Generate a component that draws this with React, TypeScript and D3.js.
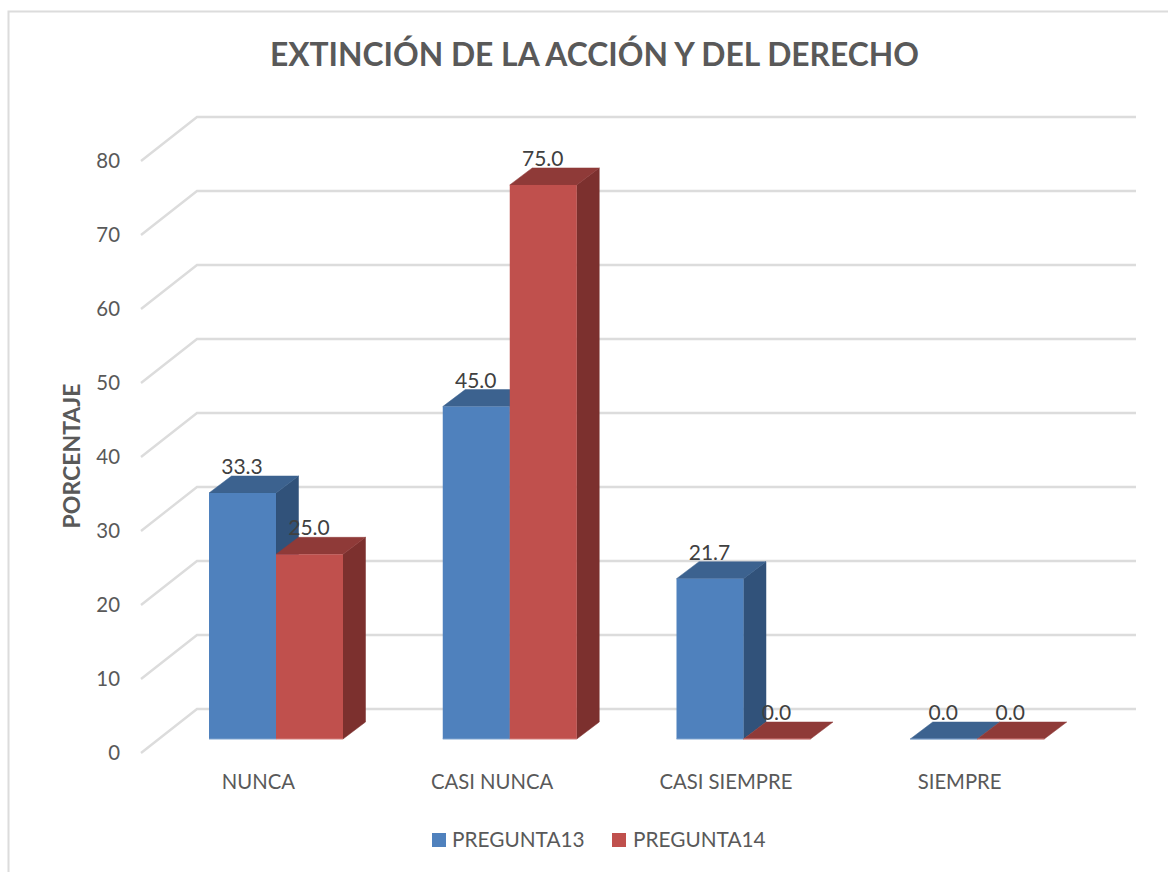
import React from "react";
import * as d3 from "d3";

const categories = ["NUNCA", "CASI NUNCA", "CASI SIEMPRE", "SIEMPRE"];
const pregunta13 = [33.3, 45.0, 21.7, 0.0];
const pregunta14 = [25.0, 75.0, 0.0, 0.0];
const yTicks = [0, 10, 20, 30, 40, 50, 60, 70, 80];
const seriesNames = ["PREGUNTA13", "PREGUNTA14"];
const fills = ["#4f81bd", "#c0504d"];
const topFills = ["#3c628f", "#8f3a38"];
const sideFills = ["#31527a", "#7c302e"];
const edgeFills = ["#7fa3cf", "#d47f7c"];

const FONT = "Lato, 'Open Sans', sans-serif";
const DX = 22.5;
const DY = -17;

const x0 = d3.scaleBand<string>().domain(categories).range([159, 1094]).paddingInner(0).paddingOuter(0);
const x1 = d3.scaleBand<string>().domain(seriesNames).range([50, 184]);
const y = d3.scaleLinear().domain([0, 80]).range([739, 148]);
const gridY = d3.scaleLinear().domain([0, 80]).range([709, 117]);
const axisY = d3.scaleLinear().domain([0, 80]).range([753, 161]);
const poly = (p: [number, number][]) => p.map((q) => q.join(",")).join(" ");

export default function App() {
  const series = [pregunta13, pregunta14];
  return (
    <svg width={1168} height={872} style={{ position: "fixed", left: 0, top: 0, display: "block", background: "#fff" }} fontFamily={FONT}>
      <path d="M1168 11.5H8.5V872" fill="none" stroke="#dcdcdc" strokeWidth={2} />
      <text x={594.5} y={66} textAnchor="middle" fontSize={31.8} fontWeight={700} fill="#595959">EXTINCIÓN DE LA ACCIÓN Y DEL DERECHO</text>

      {yTicks.map((t) => (
        <g key={t}>
          <polyline points={poly([[141, axisY(t)], [197, gridY(t)], [1136, gridY(t)]])} fill="none" stroke="#dcdcdc" strokeWidth={2.4} />
          <text x={120} y={axisY(t) + 6.8} textAnchor="end" fontSize={20.4} fill="#595959">{t}</text>
        </g>
      ))}

      <text transform="translate(80,456) rotate(-90)" textAnchor="middle" fontSize={23} fontWeight={700} fill="#595959">PORCENTAJE</text>

      {categories.map((c, i) => {
        const gx = x0(c)!;
        return (
          <g key={c}>
            {series.map((vals, s) => {
              const l = gx + x1(seriesNames[s])!;
              const r = l + x1.bandwidth();
              const top = y(vals[i]);
              const base = y(0);
              return (
                <g key={s}>
                  {vals[i] > 0 && (
                    <polygon points={poly([[r, top], [r + DX, top + DY], [r + DX, base + DY], [r, base]])} fill={sideFills[s]} stroke={sideFills[s]} strokeWidth={0.5} />
                  )}
                  <polygon points={poly([[l, top], [l + DX, top + DY], [r + DX, top + DY], [r, top]])} fill={topFills[s]} stroke={topFills[s]} strokeWidth={0.5} />
                  {vals[i] > 0 && <rect x={l} y={top} width={r - l} height={base - top} fill={fills[s]} />}
                  <line x1={l} x2={r} y1={base} y2={base} stroke={edgeFills[s]} strokeWidth={1} />
                </g>
              );
            })}
          </g>
        );
      })}

      {categories.map((c, i) => (
        <g key={c}>
          {series.map((vals, s) => {
            const cx = x0(c)! + x1(seriesNames[s])! + x1.bandwidth() / 2;
            return (
              <text key={s} x={cx - 0.5} y={y(vals[i]) + DY - 2} textAnchor="middle" fontSize={21} fill="#404040">{vals[i].toFixed(1)}</text>
            );
          })}
          <text x={x0(c)! + x0.bandwidth() / 2 - 17.5} y={789} textAnchor="middle" fontSize={20.3} fill="#595959">{c}</text>
        </g>
      ))}

      {seriesNames.map((n, s) => {
        const lx = [432, 612][s];
        return (
          <g key={n}>
            <rect x={lx} y={833} width={14} height={14} fill={fills[s]} />
            <text x={lx + 20 + s} y={847} fontSize={20.8} fill="#595959">{n}</text>
          </g>
        );
      })}
    </svg>
  );
}
